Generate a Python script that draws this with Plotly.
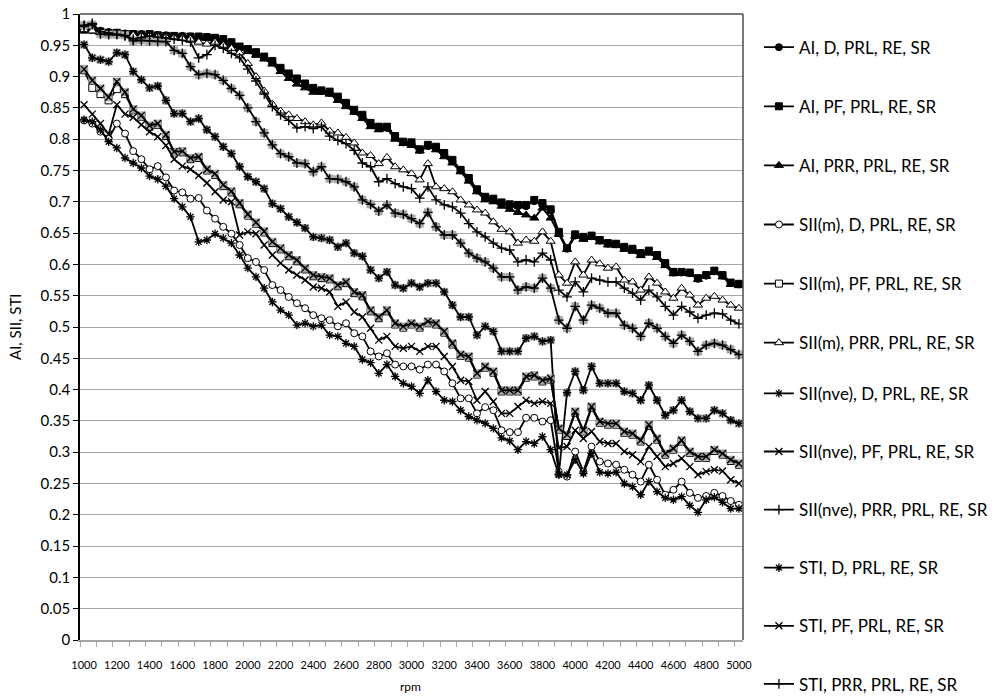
import plotly.graph_objects as go

# Engine speed axis (categories every 50 rpm)
rpm = list(range(1000, 5001, 50))

# Index values per strategy (rows of 10 points: 1000-1450, 1500-1950, ... , 5000)
ai_d = [0.977, 0.976, 0.973, 0.971, 0.970, 0.969, 0.968, 0.968, 0.967, 0.966,
        0.966, 0.965, 0.965, 0.964, 0.963, 0.963, 0.961, 0.959, 0.954, 0.947,
        0.943, 0.938, 0.931, 0.923, 0.912, 0.903, 0.895, 0.887, 0.880, 0.877,
        0.874, 0.866, 0.856, 0.845, 0.837, 0.824, 0.818, 0.818, 0.803, 0.795,
        0.793, 0.783, 0.789, 0.786, 0.776, 0.765, 0.750, 0.736, 0.718, 0.707,
        0.703, 0.697, 0.694, 0.693, 0.693, 0.701, 0.696, 0.686, 0.650, 0.625,
        0.646, 0.643, 0.645, 0.638, 0.633, 0.632, 0.627, 0.624, 0.617, 0.621,
        0.614, 0.601, 0.587, 0.587, 0.586, 0.577, 0.582, 0.589, 0.582, 0.570,
        0.568]
ai_pf = [0.975, 0.975, 0.972, 0.970, 0.970, 0.968, 0.968, 0.967, 0.968, 0.966,
         0.965, 0.965, 0.964, 0.964, 0.964, 0.963, 0.962, 0.960, 0.955, 0.948,
         0.944, 0.939, 0.932, 0.925, 0.914, 0.905, 0.897, 0.889, 0.882, 0.878,
         0.876, 0.868, 0.858, 0.847, 0.839, 0.826, 0.820, 0.820, 0.805, 0.796,
         0.795, 0.784, 0.791, 0.788, 0.778, 0.767, 0.751, 0.738, 0.720, 0.708,
         0.705, 0.699, 0.696, 0.695, 0.695, 0.703, 0.698, 0.688, 0.652, 0.626,
         0.648, 0.644, 0.646, 0.639, 0.634, 0.633, 0.628, 0.625, 0.618, 0.622,
         0.615, 0.602, 0.588, 0.588, 0.587, 0.578, 0.583, 0.590, 0.583, 0.571,
         0.569]
ai_prr = [0.974, 0.973, 0.971, 0.969, 0.969, 0.967, 0.967, 0.966, 0.966, 0.965,
          0.964, 0.964, 0.963, 0.963, 0.962, 0.961, 0.958, 0.955, 0.950, 0.945,
          0.940, 0.934, 0.928, 0.920, 0.908, 0.897, 0.888, 0.882, 0.875, 0.875,
          0.872, 0.862, 0.852, 0.843, 0.833, 0.820, 0.815, 0.817, 0.800, 0.793,
          0.790, 0.781, 0.788, 0.783, 0.772, 0.762, 0.748, 0.733, 0.716, 0.703,
          0.700, 0.693, 0.688, 0.683, 0.679, 0.674, 0.690, 0.674, 0.648, 0.624,
          0.645, 0.640, 0.643, 0.636, 0.631, 0.630, 0.624, 0.621, 0.614, 0.618,
          0.611, 0.598, 0.585, 0.586, 0.585, 0.576, 0.581, 0.587, 0.580, 0.568,
          0.566]
siim_d = [0.830, 0.825, 0.812, 0.801, 0.825, 0.809, 0.781, 0.768, 0.752, 0.757,
          0.739, 0.718, 0.715, 0.705, 0.706, 0.686, 0.673, 0.660, 0.649, 0.631,
          0.610, 0.604, 0.591, 0.567, 0.559, 0.548, 0.538, 0.530, 0.519, 0.514,
          0.511, 0.501, 0.506, 0.490, 0.485, 0.461, 0.453, 0.458, 0.440, 0.437,
          0.437, 0.432, 0.440, 0.440, 0.429, 0.410, 0.386, 0.386, 0.362, 0.372,
          0.367, 0.335, 0.332, 0.332, 0.355, 0.355, 0.349, 0.351, 0.269, 0.261,
          0.301, 0.269, 0.309, 0.285, 0.282, 0.280, 0.272, 0.264, 0.253, 0.280,
          0.256, 0.232, 0.240, 0.253, 0.235, 0.227, 0.230, 0.235, 0.230, 0.222,
          0.216]
siim_pf = [0.910, 0.882, 0.872, 0.862, 0.880, 0.872, 0.846, 0.836, 0.820, 0.823,
           0.805, 0.779, 0.779, 0.768, 0.770, 0.750, 0.743, 0.725, 0.715, 0.696,
           0.678, 0.665, 0.651, 0.634, 0.624, 0.613, 0.605, 0.592, 0.581, 0.578,
           0.576, 0.565, 0.570, 0.554, 0.549, 0.525, 0.514, 0.525, 0.504, 0.499,
           0.504, 0.499, 0.507, 0.504, 0.491, 0.472, 0.454, 0.451, 0.424, 0.435,
           0.427, 0.397, 0.397, 0.397, 0.419, 0.421, 0.413, 0.416, 0.336, 0.326,
           0.363, 0.333, 0.371, 0.347, 0.344, 0.344, 0.331, 0.328, 0.317, 0.342,
           0.320, 0.296, 0.304, 0.317, 0.299, 0.291, 0.291, 0.302, 0.296, 0.286,
           0.280]
siim_prr = [0.975, 0.973, 0.970, 0.968, 0.968, 0.967, 0.966, 0.965, 0.965, 0.964,
            0.963, 0.962, 0.961, 0.960, 0.955, 0.952, 0.955, 0.950, 0.945, 0.938,
            0.921, 0.900, 0.877, 0.856, 0.845, 0.839, 0.833, 0.828, 0.823, 0.826,
            0.813, 0.810, 0.803, 0.794, 0.778, 0.774, 0.761, 0.771, 0.756, 0.751,
            0.745, 0.735, 0.761, 0.724, 0.721, 0.716, 0.703, 0.695, 0.687, 0.682,
            0.668, 0.656, 0.652, 0.634, 0.639, 0.637, 0.652, 0.637, 0.583, 0.570,
            0.604, 0.583, 0.607, 0.601, 0.594, 0.596, 0.575, 0.572, 0.559, 0.580,
            0.570, 0.556, 0.546, 0.562, 0.551, 0.535, 0.546, 0.549, 0.543, 0.535,
            0.530]
siinve_d = [0.951, 0.930, 0.927, 0.924, 0.938, 0.935, 0.908, 0.895, 0.882, 0.885,
            0.862, 0.841, 0.841, 0.828, 0.833, 0.815, 0.804, 0.788, 0.777, 0.756,
            0.740, 0.732, 0.721, 0.697, 0.689, 0.676, 0.667, 0.658, 0.644, 0.642,
            0.639, 0.628, 0.634, 0.618, 0.613, 0.591, 0.578, 0.588, 0.567, 0.562,
            0.570, 0.564, 0.570, 0.570, 0.556, 0.535, 0.516, 0.516, 0.487, 0.501,
            0.493, 0.461, 0.461, 0.461, 0.482, 0.485, 0.477, 0.479, 0.265, 0.395,
            0.429, 0.399, 0.437, 0.410, 0.410, 0.410, 0.397, 0.394, 0.383, 0.407,
            0.383, 0.359, 0.367, 0.383, 0.365, 0.354, 0.354, 0.367, 0.362, 0.351,
            0.346]
siinve_pf = [0.912, 0.894, 0.881, 0.867, 0.892, 0.875, 0.848, 0.838, 0.822, 0.825,
             0.807, 0.780, 0.781, 0.770, 0.772, 0.752, 0.745, 0.727, 0.717, 0.698,
             0.680, 0.667, 0.653, 0.636, 0.626, 0.615, 0.607, 0.594, 0.583, 0.580,
             0.578, 0.567, 0.572, 0.556, 0.551, 0.527, 0.516, 0.527, 0.506, 0.501,
             0.506, 0.501, 0.509, 0.506, 0.493, 0.474, 0.456, 0.453, 0.426, 0.437,
             0.429, 0.399, 0.399, 0.399, 0.421, 0.423, 0.415, 0.418, 0.338, 0.328,
             0.365, 0.335, 0.373, 0.349, 0.346, 0.346, 0.333, 0.330, 0.319, 0.344,
             0.322, 0.298, 0.306, 0.319, 0.301, 0.293, 0.293, 0.304, 0.298, 0.288,
             0.282]
siinve_prr = [0.982, 0.983, 0.968, 0.967, 0.967, 0.966, 0.957, 0.958, 0.957, 0.956,
              0.956, 0.942, 0.937, 0.916, 0.903, 0.905, 0.903, 0.894, 0.881, 0.870,
              0.850, 0.828, 0.810, 0.791, 0.777, 0.772, 0.762, 0.761, 0.748, 0.756,
              0.737, 0.736, 0.732, 0.724, 0.703, 0.696, 0.685, 0.695, 0.682, 0.680,
              0.673, 0.665, 0.683, 0.660, 0.647, 0.647, 0.634, 0.618, 0.610, 0.604,
              0.594, 0.580, 0.580, 0.559, 0.564, 0.562, 0.578, 0.562, 0.511, 0.498,
              0.533, 0.511, 0.535, 0.530, 0.522, 0.522, 0.503, 0.498, 0.485, 0.506,
              0.498, 0.485, 0.474, 0.487, 0.477, 0.461, 0.471, 0.474, 0.471, 0.464,
              0.456]
sti_d = [0.831, 0.828, 0.815, 0.796, 0.786, 0.770, 0.762, 0.754, 0.741, 0.736,
         0.725, 0.705, 0.692, 0.676, 0.636, 0.639, 0.649, 0.642, 0.634, 0.615,
         0.594, 0.580, 0.562, 0.540, 0.527, 0.519, 0.503, 0.506, 0.501, 0.503,
         0.487, 0.485, 0.474, 0.469, 0.448, 0.443, 0.426, 0.440, 0.421, 0.410,
         0.405, 0.394, 0.415, 0.397, 0.383, 0.381, 0.367, 0.357, 0.351, 0.346,
         0.338, 0.323, 0.318, 0.304, 0.317, 0.314, 0.325, 0.304, 0.264, 0.264,
         0.288, 0.266, 0.298, 0.268, 0.266, 0.268, 0.250, 0.245, 0.232, 0.253,
         0.237, 0.227, 0.224, 0.229, 0.215, 0.204, 0.224, 0.228, 0.220, 0.210,
         0.210]
sti_pf = [0.855, 0.840, 0.825, 0.808, 0.855, 0.840, 0.835, 0.823, 0.812, 0.804,
          0.790, 0.768, 0.757, 0.752, 0.742, 0.730, 0.716, 0.703, 0.700, 0.647,
          0.652, 0.649, 0.631, 0.615, 0.602, 0.591, 0.583, 0.575, 0.564, 0.562,
          0.556, 0.533, 0.540, 0.524, 0.516, 0.498, 0.479, 0.485, 0.469, 0.466,
          0.469, 0.461, 0.469, 0.469, 0.453, 0.437, 0.415, 0.413, 0.383, 0.397,
          0.381, 0.362, 0.362, 0.373, 0.383, 0.378, 0.381, 0.378, 0.307, 0.309,
          0.335, 0.322, 0.333, 0.317, 0.314, 0.314, 0.301, 0.296, 0.285, 0.309,
          0.293, 0.277, 0.282, 0.290, 0.277, 0.264, 0.269, 0.272, 0.270, 0.256,
          0.250]
sti_prr = [0.980, 0.985, 0.972, 0.970, 0.968, 0.965, 0.960, 0.962, 0.965, 0.963,
           0.962, 0.960, 0.958, 0.955, 0.930, 0.935, 0.950, 0.945, 0.937, 0.930,
           0.912, 0.893, 0.872, 0.852, 0.839, 0.830, 0.818, 0.820, 0.817, 0.820,
           0.805, 0.798, 0.793, 0.782, 0.762, 0.756, 0.732, 0.737, 0.729, 0.724,
           0.721, 0.706, 0.724, 0.703, 0.695, 0.692, 0.682, 0.665, 0.652, 0.644,
           0.634, 0.626, 0.623, 0.604, 0.607, 0.604, 0.618, 0.607, 0.559, 0.548,
           0.572, 0.556, 0.578, 0.575, 0.572, 0.572, 0.562, 0.554, 0.543, 0.559,
           0.548, 0.533, 0.519, 0.533, 0.524, 0.514, 0.519, 0.522, 0.521, 0.511,
           0.505]

y_ticks = [round(0.05 * k, 2) for k in range(21)]
x_labels = list(range(1000, 5001, 200))

FONT = "Lato, 'Open Sans', sans-serif"
INK = "#000000"
GRAY = "#a6a6a6"

# (name, values, marker symbol, marker fill, gray backing square)
series = [
    ("AI, D, PRL, RE, SR", ai_d, "circle", INK, False),
    ("AI, PF, PRL, RE, SR", ai_pf, "square", INK, False),
    ("AI, PRR, PRL, RE, SR", ai_prr, "triangle-up", INK, False),
    ("SII(m), D, PRL, RE, SR", siim_d, "circle", "white", False),
    ("SII(m), PF, PRL, RE, SR", siim_pf, "square", "white", False),
    ("SII(m), PRR, PRL, RE, SR", siim_prr, "triangle-up", "white", False),
    ("SII(nve), D, PRL, RE, SR", siinve_d, "asterisk-open", INK, True),
    ("SII(nve), PF, PRL, RE, SR", siinve_pf, "x-thin-open", INK, True),
    ("SII(nve), PRR, PRL, RE, SR", siinve_prr, "cross-thin-open", INK, True),
    ("STI, D, PRL, RE, SR", sti_d, "asterisk-open", INK, False),
    ("STI, PF, PRL, RE, SR", sti_pf, "x-thin-open", INK, False),
    ("STI, PRR, PRL, RE, SR", sti_prr, "cross-thin-open", INK, False),
]

fig = go.Figure()
for k, (name, vals, sym, fill, backing) in enumerate(series):
    if backing:
        fig.add_trace(go.Scatter(
            x=rpm, y=vals, mode="markers", showlegend=False, hoverinfo="skip",
            marker=dict(symbol="square", size=8, color=GRAY, line=dict(width=0)),
        ))
    if sym.endswith("-open"):
        marker = dict(symbol=sym, size=7, color=INK, line=dict(width=1.3, color=INK))
    else:
        size = 8 if sym == "triangle-up" else 7
        marker = dict(symbol=sym, size=size, color=fill, line=dict(width=1, color=INK))
    fig.add_trace(go.Scatter(
        x=rpm, y=vals, mode="lines+markers", name=name,
        line=dict(color=INK, width=1.8),
        marker=marker,
        legend="legend" if k < 6 else "legend2",
        legendgroup=f"g{k}",
    ))

legend_common = dict(
    font=dict(family=FONT, size=17, color=INK),
    bgcolor="rgba(0,0,0,0)", borderwidth=0,
    xanchor="left", yanchor="top",
)

fig.update_layout(
    width=1005, height=697,
    margin=dict(l=80, r=262, t=14, b=57, autoexpand=False),
    paper_bgcolor="white", plot_bgcolor="white",
    font=dict(family=FONT, color=INK),
    legend=dict(x=1.024, y=0.975, tracegroupgap=34, **legend_common),
    legend2=dict(x=1.024, y=0.422, tracegroupgap=33, **legend_common),
    xaxis=dict(
        range=[975, 5025], tickmode="array", tickvals=x_labels,
        ticktext=[str(v) for v in x_labels],
        ticks="outside", ticklen=14, tickcolor="rgba(0,0,0,0)",
        tickfont=dict(family=FONT, size=11, color=INK),
        showgrid=False, zeroline=False,
        showline=True, linecolor=GRAY, linewidth=1.5,
        minor=dict(tick0=975, dtick=100, ticks="outside", ticklen=5,
                   tickcolor=GRAY, tickwidth=1, showgrid=False),
    ),
    yaxis=dict(
        range=[0, 1], tickmode="array", tickvals=y_ticks,
        ticktext=[f"{v:g}" for v in y_ticks],
        ticks="outside", ticklen=5, tickcolor=INK,
        tickfont=dict(family=FONT, size=15, color=INK),
        showgrid=True, gridcolor=GRAY, gridwidth=1.3,
        zeroline=False, showline=True, linecolor=INK, linewidth=1.5,
    ),
    shapes=[
        dict(type="line", xref="paper", yref="paper", x0=0, x1=1, y0=1, y1=1,
             line=dict(color="#4d4d4d", width=1.5)),
        dict(type="line", xref="paper", yref="paper", x0=1, x1=1, y0=0, y1=1,
             line=dict(color="#4d4d4d", width=1.5)),
    ],
    annotations=[
        dict(text="AI, SII, STI", xref="paper", yref="paper", x=-0.098, y=0.5,
             textangle=-90, showarrow=False, xanchor="center", yanchor="middle",
             font=dict(family=FONT, size=15, color=INK)),
        dict(text="rpm", xref="paper", yref="paper", x=0.498, y=-0.0735,
             showarrow=False, xanchor="center", yanchor="middle",
             font=dict(family=FONT, size=12, color=INK)),
    ],
)

fig.write_html("out.html")
